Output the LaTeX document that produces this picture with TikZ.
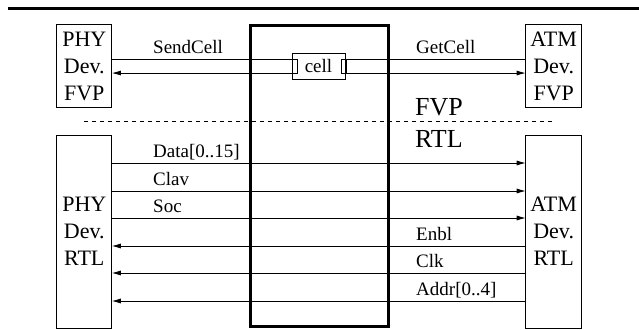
\documentclass[tikz,border=0pt]{standalone}
\usepackage{fontspec}
\setmainfont{Liberation Serif}
\usetikzlibrary{arrows.meta,positioning}
\tikzset{%
    unit/.style={inner sep=0pt,outer sep=0pt,shape=rectangle,draw,line width=0.8pt,align=center,font=\fontsize{22}{27}\selectfont},
    core/.style={inner sep=0pt,outer sep=0pt,shape=rectangle,draw,line width=3pt},
    port/.style={inner sep=0pt,outer sep=0pt,shape=rectangle,draw,line width=0.8pt,minimum width=5pt,minimum height=13.5pt},
    sig/.style={line width=0.8pt,>={Latex[length=9pt,width=5pt]}},
    lab/.style={anchor=base west,inner sep=0pt,font=\fontsize{19}{22}\selectfont},
    level/.style={anchor=base west,inner sep=0pt,font=\fontsize{26}{30}\selectfont},
}
\begin{document}
\begin{tikzpicture}[x=1pt,y=-1pt]
        \useasboundingbox (0,0) rectangle (639,329);
        \draw[line width=3pt] (8,8.3) -- (639,8.3);

        \node[core,minimum width=138pt,minimum height=300pt] (bus) at (319,176) {};

        % FVP level
        \node[unit,minimum width=55pt,minimum height=83pt] (phyfvp) at (84.3,66.3) {PHY\\Dev.\\FVP};
        \node[unit,minimum width=56pt,minimum height=83pt] (atmfvp) at (553.7,66.3) {ATM\\Dev.\\FVP};
        \node[port,fill=white,minimum width=53pt,minimum height=26pt,font=\fontsize{19}{21}\selectfont] (cell) at (318.5,66.3) {cell};
        \node[port] (cin) at (294.5,66.3) {};
        \node[port] (cout) at (343.5,66.3) {};
          \draw[sig] (cin.north west) -- (cin.north west -| phyfvp.east);
          \draw[sig,->] (cin.south west) -- (cin.south west -| phyfvp.east);
          \draw[sig] (cout.north east) -- (cout.north east -| atmfvp.west);
          \draw[sig,->] (cout.south east) -- (cout.south east -| atmfvp.west);
        \node[lab] (send) at (153,53) {SendCell};
        \node[lab] (get) at (416,53) {GetCell};

        \draw[line width=0.8pt,dash pattern=on 4pt off 4pt] (84,121) -- (553,121);
        \node[level] (fvp) at (415,115) {FVP};
        \node[level] (rtl) at (415,147) {RTL};

        % RTL level
        \node[unit,minimum width=55pt,minimum height=193pt] (phyrtl) at (84.3,231.5) {PHY\\Dev.\\RTL};
        \node[unit,minimum width=56pt,minimum height=193pt] (atmrtl) at (553.7,231.5) {ATM\\Dev.\\RTL};
        \foreach \y/\txt [count=\i] in {163/{Data[0..15]},191/Clav,218/Soc}{
          \draw[sig,->] (phyrtl.east |- 0,\y) -- (atmrtl.west |- 0,\y);
          \node[lab] (in\i) at (153,\y-6) {\txt};
        }
        \foreach \y/\txt [count=\i] in {246/Enbl,273/Clk,301/{Addr[0..4]}}{
          \draw[sig,<-] (phyrtl.east |- 0,\y) -- (atmrtl.west |- 0,\y);
          \node[lab] (out\i) at (416,\y-6) {\txt};
        }
      \end{tikzpicture}
\end{document}
